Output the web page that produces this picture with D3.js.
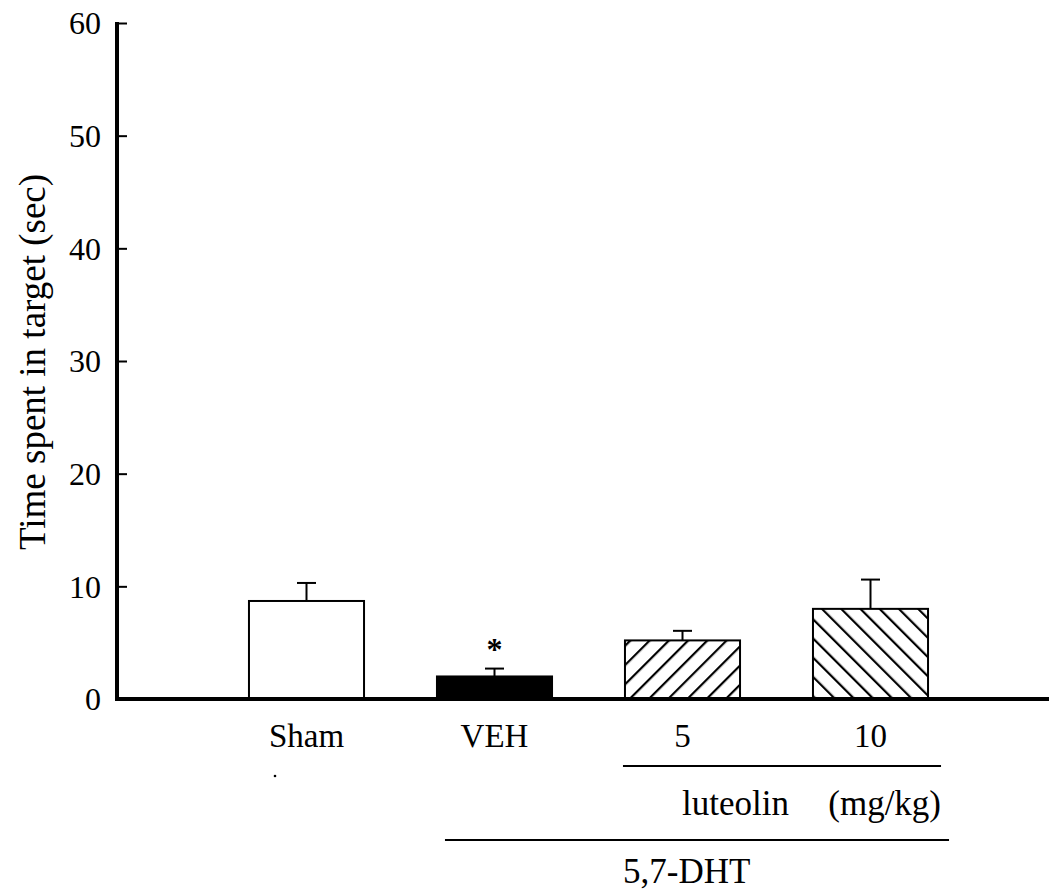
<!DOCTYPE html>
<html>
<head>
<meta charset="utf-8">
<script src="https://cdn.jsdelivr.net/npm/d3@7"></script>
<style>
  html, body { margin: 0; padding: 0; background: #fff; }
  svg { display: block; }
</style>
</head>
<body>
<svg id="chart" width="1049" height="891"></svg>
<script>
// Groups and mean ± SEM of time spent in the target quadrant
const categories = ["Sham", "VEH", "5", "10"];
const means = [8.7, 2.0, 5.2, 8.0];
const sems = [1.6, 0.7, 0.85, 2.6];
const fillKinds = ["white", "black", "hatchUp", "hatchDown"];
const yTicks = [0, 10, 20, 30, 40, 50, 60];
const significant = [false, true, false, false];

const FONT = '"Liberation Serif"';
const svg = d3.select("#chart");

const y = d3.scaleLinear().domain([0, 60]).range([699, 23]);
const x = d3.scaleBand()
  .domain(categories)
  .range([212.5, 964.5])
  .paddingInner(0.388)
  .paddingOuter(0.194);

function label(sel) {
  return sel.style("font-family", FONT).attr("fill", "#000");
}

// Hatch patterns for the luteolin doses
const defs = svg.append("defs");
function hatch(id, angle) {
  const p = defs.append("pattern")
    .attr("id", id)
    .attr("patternUnits", "userSpaceOnUse")
    .attr("width", 13.6).attr("height", 13.6)
    .attr("patternTransform", `rotate(${angle})`);
  p.append("rect").attr("width", 13.6).attr("height", 13.6).attr("fill", "#fff");
  p.append("line")
    .attr("x1", 1).attr("y1", -1).attr("x2", 1).attr("y2", 14.6)
    .attr("stroke", "#000").attr("stroke-width", 2.4);
}
hatch("hatchUp", 45);
hatch("hatchDown", -45);

const fillFor = k => k === "white" ? "#fff" : k === "black" ? "#000" : `url(#${k})`;

const data = categories.map((c, i) => ({ c, m: means[i], e: sems[i], f: fillKinds[i], sig: significant[i] }));

// Error bars (upper half only)
const err = svg.append("g").attr("stroke", "#000").attr("stroke-width", 2);
data.forEach(d => {
  const cx = x(d.c) + x.bandwidth() / 2;
  err.append("line").attr("x1", cx).attr("x2", cx).attr("y1", y(d.m)).attr("y2", y(d.m + d.e));
  err.append("line").attr("x1", cx - 9.5).attr("x2", cx + 9.5).attr("y1", y(d.m + d.e)).attr("y2", y(d.m + d.e));
});

// Bars
svg.append("g").selectAll("rect").data(data).join("rect")
  .attr("x", d => x(d.c))
  .attr("y", d => y(d.m))
  .attr("width", x.bandwidth())
  .attr("height", d => y(0) - y(d.m))
  .attr("fill", d => fillFor(d.f))
  .attr("stroke", "#000")
  .attr("stroke-width", 2);

// Significance marker
svg.append("g").selectAll("text").data(data.filter(d => d.sig)).join("text")
  .attr("x", d => x(d.c) + x.bandwidth() / 2)
  .attr("y", d => y(d.m + d.e) - 9)
  .attr("text-anchor", "middle")
  .attr("font-size", 32)
  .attr("font-weight", "bold")
  .call(label)
  .text("*");

// Y axis: ticks point inward
const yAxis = d3.axisRight(y).tickValues(yTicks).tickSize(10).tickFormat("");
const gy = svg.append("g").attr("transform", "translate(117,0)").call(yAxis);
gy.select(".domain").remove();
gy.selectAll(".tick line").attr("stroke", "#000").attr("stroke-width", 2);
svg.append("line")
  .attr("x1", 117).attr("x2", 117).attr("y1", y(60) - 1).attr("y2", y(0) + 2)
  .attr("stroke", "#000").attr("stroke-width", 4);

svg.append("g").selectAll("text").data(yTicks).join("text")
  .attr("x", 101)
  .attr("y", d => y(d))
  .attr("dy", "0.35em")
  .attr("text-anchor", "end")
  .attr("font-size", 32)
  .call(label)
  .text(d => d);

// X axis baseline
svg.append("line")
  .attr("x1", 115).attr("x2", 1049).attr("y1", y(0)).attr("y2", y(0))
  .attr("stroke", "#000").attr("stroke-width", 4);

// Y axis title
svg.append("text")
  .attr("transform", "translate(45,362) rotate(-90)")
  .attr("text-anchor", "middle")
  .attr("font-size", 37)
  .call(label)
  .text("Time spent in target (sec)");

// Group labels
svg.append("g").selectAll("text").data(categories).join("text")
  .attr("x", d => x(d) + x.bandwidth() / 2)
  .attr("y", 747)
  .attr("text-anchor", "middle")
  .attr("font-size", 33)
  .call(label)
  .text(d => d);

svg.append("circle").attr("cx", 275).attr("cy", 776).attr("r", 1.3).attr("fill", "#000");

// Luteolin dose bracket
const lutL = x("5") - 2;
const lutR = x("10") + x.bandwidth() + 13;
svg.append("line").attr("x1", lutL).attr("x2", lutR).attr("y1", 766).attr("y2", 766)
  .attr("stroke", "#000").attr("stroke-width", 2);
svg.append("text").attr("x", 682).attr("y", 815).attr("font-size", 35).call(label).text("luteolin");
svg.append("text").attr("x", lutR).attr("y", 815).attr("text-anchor", "end").attr("font-size", 35).call(label).text("(mg/kg)");

// 5,7-DHT lesion bracket
const dhtL = x("VEH") + 8;
svg.append("line").attr("x1", dhtL).attr("x2", lutR + 8).attr("y1", 840).attr("y2", 840)
  .attr("stroke", "#000").attr("stroke-width", 2);
svg.append("text").attr("x", 623).attr("y", 883).attr("font-size", 35).call(label).text("5,7-DHT");
</script>
</body>
</html>
